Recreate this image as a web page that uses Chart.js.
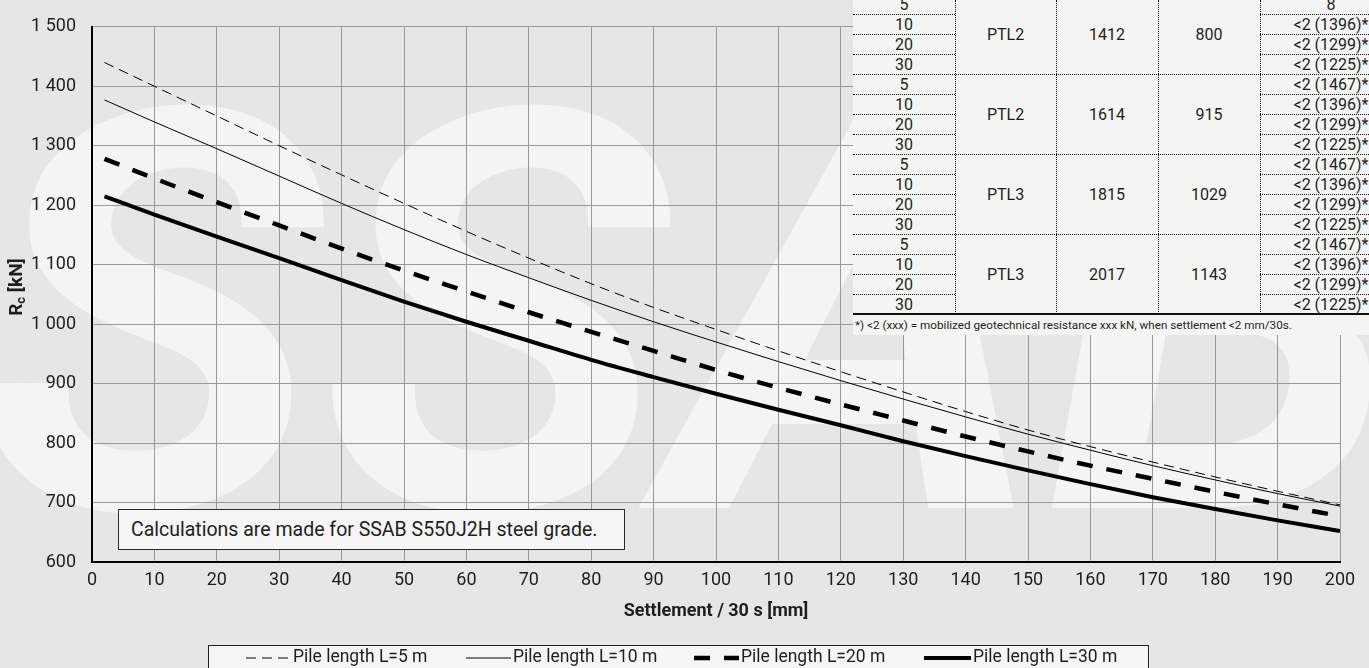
<!DOCTYPE html>
<html>
<head>
<meta charset="utf-8">
<title>Pile resistance vs settlement</title>
<script src="https://cdn.jsdelivr.net/npm/chart.js@4.4.1/dist/chart.umd.min.js"></script>
<style>
  html, body { margin: 0; padding: 0; }
  body {
    width: 1369px; height: 668px; overflow: hidden; position: relative;
    background: #e5e6e5; font-family: Roboto, sans-serif; color: #1e1e1e;
  }
  #chart { position: absolute; left: 0; top: 0; }
  .note {
    position: absolute; left: 118px; top: 509px; width: 507px; height: 41px;
    box-sizing: border-box; background: #f4f5f4; border: 1px solid #2a2a2a;
    font-size: 19.5px; line-height: 39px; padding-left: 12px; white-space: nowrap;
  }
  #pileTable {
    position: absolute; left: 853px; top: 0; width: 516px; height: 316px;
    background: #f4f5f3; overflow: hidden; font-size: 16px;
  }
  #pileTable .cell { position: absolute; text-align: center; white-space: nowrap; }
  #pileTable .hl { position: absolute; height: 0; border-top: 1px dotted #111; }
  #pileTable .vl { position: absolute; width: 0; top: 0; height: 314px; border-left: 1px dotted #111; }
  #pileTable .bottom { position: absolute; left: 0; right: 0; top: 313px; height: 2px; background: #111; }
  .footnote {
    position: absolute; left: 853px; top: 315px; width: 516px; height: 20px;
    background: #f4f5f3; font-size: 11.7px; line-height: 20px; padding-left: 2px;
    box-sizing: border-box; white-space: nowrap;
  }
</style>
</head>
<body>
<canvas id="chart" width="1369" height="668"></canvas>
<div id="pileTable"></div>
<div class="footnote">*) &lt;2 (xxx) = mobilized geotechnical resistance xxx kN, when settlement &lt;2 mm/30s.</div>
<div class="note">Calculations are made for SSAB S550J2H steel grade.</div>
<script>
// settlement per 30 s [mm]
const settlement = [2, 10, 20, 30, 40, 50, 60, 70, 80, 90, 100, 110, 120, 130, 140, 150, 160, 170, 180, 190, 200];

// Rc [kN] for each pile length
const pileL5  = [1440, 1400, 1350, 1300, 1251, 1203, 1156, 1111, 1068, 1028, 991, 955, 920, 886, 853, 822, 794, 768, 743, 719, 696];
const pileL10 = [1377, 1340, 1295, 1249, 1203, 1159, 1117, 1078, 1040, 1004, 970, 937, 905, 874, 844, 815, 788, 762, 738, 715, 694];
const pileL20 = [1278, 1245, 1205, 1166, 1127, 1090, 1055, 1020, 987, 955, 923, 893, 865, 838, 811, 786, 762, 740, 718, 697, 677];
const pileL30 = [1215, 1184, 1147, 1111, 1074, 1038, 1004, 972, 940, 911, 883, 856, 830, 803, 778, 754, 731, 709, 689, 670, 652];

const seriesLabels = ['Pile length L=5 m', 'Pile length L=10 m', 'Pile length L=20 m', 'Pile length L=30 m'];

// table in the upper right corner
const tableLengths = [5, 10, 20, 30];
const tableProfiles = ['PTL2', 'PTL2', 'PTL3', 'PTL3'];
const tableColA = [1412, 1614, 1815, 2017];
const tableColB = [800, 915, 1029, 1143];
const tableSettle = [
    ['8', '<2 (1396)*', '<2 (1299)*', '<2 (1225)*'],
    ['<2 (1467)*', '<2 (1396)*', '<2 (1299)*', '<2 (1225)*'],
    ['<2 (1467)*', '<2 (1396)*', '<2 (1299)*', '<2 (1225)*'],
    ['<2 (1467)*', '<2 (1396)*', '<2 (1299)*', '<2 (1225)*']
];

function buildTable() {
    const el = document.getElementById('pileTable');
    const rowH = 20, y0 = -5.5;
    const colX = [0, 102, 203, 305, 407, 549];
    const add = (cls, css, text) => {
        const d = document.createElement('div');
        d.className = cls;
        Object.assign(d.style, css);
        if (text !== undefined) d.textContent = text;
        el.appendChild(d);
    };
    const cellText = (col, top, h, text) => add('cell', {
        left: colX[col] + 'px', width: (colX[col + 1] - colX[col]) + 'px',
        top: top + 'px', height: h + 'px', lineHeight: h + 'px'
    }, text);

    tableProfiles.forEach((profile, g) => {
        const gTop = y0 + g * 4 * rowH;
        cellText(1, gTop, 4 * rowH, profile);
        cellText(2, gTop, 4 * rowH, tableColA[g]);
        cellText(3, gTop, 4 * rowH, tableColB[g]);
        tableLengths.forEach((len, r) => {
            const top = gTop + r * rowH;
            cellText(0, top, rowH, len);
            cellText(4, top, rowH, tableSettle[g][r]);
            const lineY = Math.round(top + rowH) - 1;
            if (r === 3) {
                if (g < 3) add('hl', { left: '0px', width: '516px', top: lineY + 'px' });
            } else {
                add('hl', { left: '0px', width: '102px', top: lineY + 'px' });
                add('hl', { left: '407px', width: '109px', top: lineY + 'px' });
            }
        });
    });
    colX.slice(1, 5).forEach(x => add('vl', { left: x + 'px' }));
    add('bottom', {});
}
buildTable();

const toPoints = ys => settlement.map((x, i) => ({ x: x, y: ys[i] }));
const spaced = v => String(v).replace(/\B(?=(\d{3})+(?!\d))/g, ' ');

// big SSAB lettering behind the plot
const watermark = {
    id: 'watermark',
    beforeDraw(chart) {
        const ctx = chart.ctx;
        ctx.save();
        ctx.font = 'italic bold 560px Roboto';
        ctx.fillStyle = '#f3f4f3';
        ctx.textBaseline = 'alphabetic';
        const w = ctx.measureText('SSAB').width;
        ctx.translate(-25, 508);
        ctx.scale(1430 / w, 1);
        ctx.fillText('SSAB', 0, 0);
        ctx.restore();
    }
};

// rotated y title with subscript
const yTitle = {
    id: 'yTitle',
    afterDraw(chart) {
        const ctx = chart.ctx;
        ctx.save();
        ctx.translate(17, 287);
        ctx.rotate(-Math.PI / 2);
        ctx.fillStyle = '#1e1e1e';
        ctx.textBaseline = 'middle';
        const big = 'bold 19px Roboto', small = 'bold 13px Roboto';
        ctx.font = big; const wR = ctx.measureText('R').width;
        ctx.font = small; const wc = ctx.measureText('c').width;
        ctx.font = big; const wk = ctx.measureText(' [kN]').width;
        let x = -(wR + wc + wk) / 2;
        ctx.font = big; ctx.fillText('R', x, 0); x += wR;
        ctx.font = small; ctx.fillText('c', x, 5); x += wc;
        ctx.font = big; ctx.fillText(' [kN]', x, 0);
        ctx.restore();
    }
};

// boxed legend under the x axis
const pileLegend = {
    id: 'pileLegend',
    afterDraw(chart, args, opts) {
        const ctx = chart.ctx;
        ctx.save();
        ctx.fillStyle = '#f4f5f4';
        ctx.fillRect(208, 645, 941, 40);
        ctx.strokeStyle = '#222';
        ctx.lineWidth = 1;
        ctx.strokeRect(208.5, 645.5, 940, 40);
        ctx.font = '17.5px Roboto';
        ctx.textBaseline = 'middle';
        chart.data.datasets.forEach((ds, i) => {
            const [x0, w] = opts.items[i];
            const y = 658;
            ctx.beginPath();
            ctx.setLineDash(ds.borderDash || []);
            ctx.lineWidth = ds.borderWidth;
            ctx.strokeStyle = ds.borderColor;
            ctx.moveTo(x0, y);
            ctx.lineTo(x0 + w, y);
            ctx.stroke();
            ctx.setLineDash([]);
            ctx.fillStyle = '#1e1e1e';
            ctx.fillText(ds.label, x0 + w + 2, y);
        });
        ctx.restore();
    }
};

Chart.defaults.font.family = 'Roboto';
Chart.defaults.color = '#1e1e1e';

new Chart(document.getElementById('chart'), {
    type: 'line',
    data: {
        datasets: [
            { label: seriesLabels[0], data: toPoints(pileL5), borderColor: '#000', borderWidth: 1, borderDash: [10, 6] },
            { label: seriesLabels[1], data: toPoints(pileL10), borderColor: '#000', borderWidth: 1 },
            { label: seriesLabels[2], data: toPoints(pileL20), borderColor: '#000', borderWidth: 4.5, borderDash: [16, 14] },
            { label: seriesLabels[3], data: toPoints(pileL30), borderColor: '#000', borderWidth: 4 }
        ]
    },
    options: {
        responsive: false,
        animation: false,
        events: [],
        layout: { padding: { top: 22, right: 29, bottom: 42, left: 0 } },
        elements: {
            point: { radius: 0 },
            line: { cubicInterpolationMode: 'monotone', fill: false }
        },
        scales: {
            x: {
                type: 'linear',
                min: 0,
                max: 200,
                ticks: { stepSize: 10, padding: 8, font: { size: 18 } },
                grid: { color: '#999', lineWidth: 1, drawTicks: false },
                border: { color: '#000', width: 2 },
                title: { display: true, text: 'Settlement / 30 s [mm]', font: { size: 18, weight: 'bold' } },
                afterFit: scale => { scale.height = 64; }
            },
            y: {
                min: 600,
                max: 1500,
                ticks: { stepSize: 100, padding: 16, font: { size: 18 }, callback: v => spaced(v) },
                grid: { color: '#999', lineWidth: 1, drawTicks: false },
                border: { color: '#000', width: 2 },
                afterFit: scale => { scale.width = 92; }
            }
        },
        plugins: {
            legend: { display: false },
            tooltip: { enabled: false },
            pileLegend: {
                items: [[246, 45], [466, 45], [694, 45], [924, 47]]
            }
        }
    },
    plugins: [watermark, yTitle, pileLegend]
});
</script>
</body>
</html>
